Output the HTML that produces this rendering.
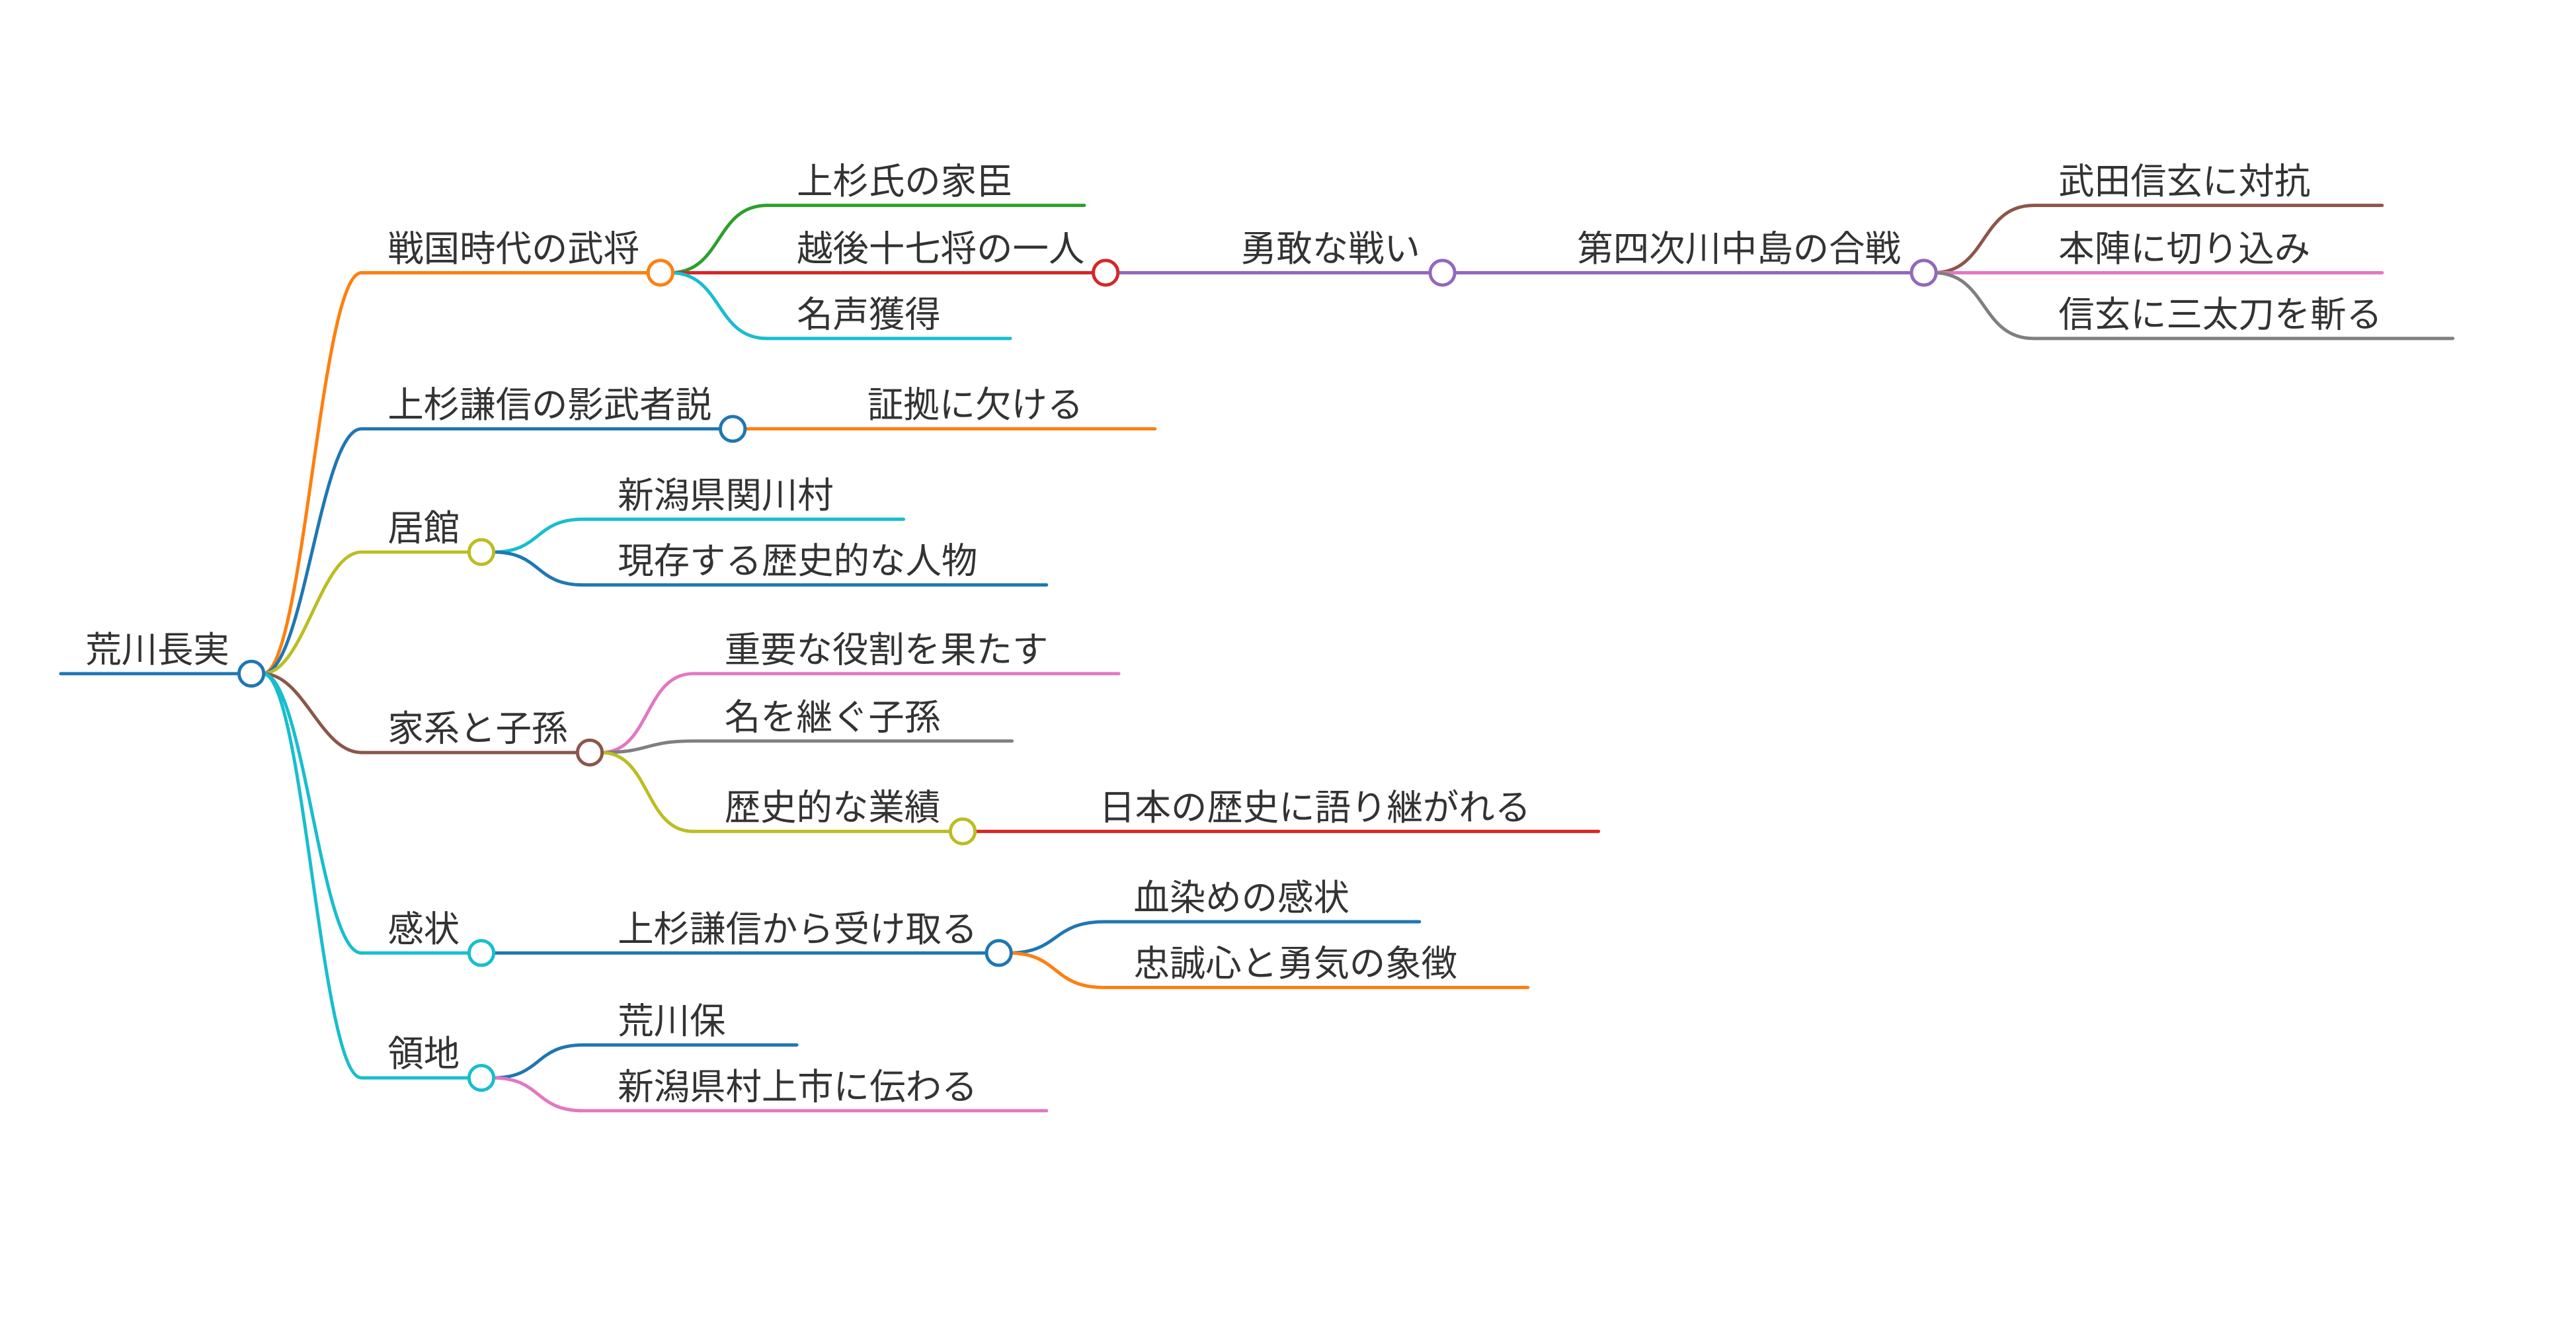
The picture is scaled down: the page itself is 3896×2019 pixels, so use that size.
<!DOCTYPE html>
<html><head><meta charset="utf-8">
<style>
html,body{margin:0;padding:0;background:#fff;}
svg{display:block;}
text{font-family:"Liberation Sans","Noto Sans CJK JP",sans-serif;font-size:21.9px;fill:#333;}
</style></head>
<body>
<svg width="3896" height="2019" viewBox="0 0 1568 812.5" preserveAspectRatio="none" xmlns="http://www.w3.org/2000/svg">
<g fill="none" stroke-width="2" stroke-linecap="round">
<path d="M37 410 H153" stroke="#1f77b4"/>
<path d="M160 410 C185 410 195 166 220 166 H402" stroke="#ff7f0e"/>
<path d="M160 410 C185 410 195 261 220 261 H446" stroke="#1f77b4"/>
<path d="M160 410 C185 410 195 336 220 336 H293" stroke="#bcbd22"/>
<path d="M160 410 C185 410 195 458 220 458 H359" stroke="#8c564b"/>
<path d="M160 410 C185 410 195 580 220 580 H293" stroke="#17becf"/>
<path d="M160 410 C185 410 195 656 220 656 H293" stroke="#17becf"/>
<path d="M408 166 C440 166 435 125 467 125 H660" stroke="#2ca02c"/>
<path d="M408 166 H673" stroke="#d62728"/>
<path d="M408 166 C440 166 435 206 467 206 H615" stroke="#17becf"/>
<path d="M680 166 H878" stroke="#9467bd"/>
<path d="M885 166 H1171" stroke="#9467bd"/>
<path d="M1177 166 C1210 166 1205 125 1238 125 H1450" stroke="#8c564b"/>
<path d="M1177 166 H1450" stroke="#e377c2"/>
<path d="M1177 166 C1210 166 1205 206 1238 206 H1493" stroke="#7f7f7f"/>
<path d="M453 261 H703" stroke="#ff7f0e"/>
<path d="M300 336 C330 336 325 316 355 316 H550" stroke="#17becf"/>
<path d="M300 336 C330 336 325 356 355 356 H637" stroke="#1f77b4"/>
<path d="M366 458 C396 458 392 410 422 410 H681" stroke="#e377c2"/>
<path d="M366 458 C396 458 392 451 422 451 H616" stroke="#7f7f7f"/>
<path d="M366 458 C396 458 392 506 422 506 H586" stroke="#bcbd22"/>
<path d="M593 506 H973" stroke="#d62728"/>
<path d="M300 580 H608" stroke="#1f77b4"/>
<path d="M614 580 C645 580 640 561 672 561 H864" stroke="#1f77b4"/>
<path d="M614 580 C645 580 640 601 672 601 H930" stroke="#ff7f0e"/>
<path d="M300 656 C330 656 325 636 355 636 H485" stroke="#1f77b4"/>
<path d="M300 656 C330 656 325 676 355 676 H637" stroke="#e377c2"/>
</g>
<g fill="#fff" stroke-width="2">
<circle cx="153" cy="410" r="7.5" stroke="#1f77b4"/>
<circle cx="402" cy="166" r="7.5" stroke="#ff7f0e"/>
<circle cx="673" cy="166" r="7.5" stroke="#d62728"/>
<circle cx="878" cy="166" r="7.5" stroke="#9467bd"/>
<circle cx="1171" cy="166" r="7.5" stroke="#9467bd"/>
<circle cx="446" cy="261" r="7.5" stroke="#1f77b4"/>
<circle cx="293" cy="336" r="7.5" stroke="#bcbd22"/>
<circle cx="359" cy="458" r="7.5" stroke="#8c564b"/>
<circle cx="586" cy="506" r="7.5" stroke="#bcbd22"/>
<circle cx="293" cy="580" r="7.5" stroke="#17becf"/>
<circle cx="608" cy="580" r="7.5" stroke="#1f77b4"/>
<circle cx="293" cy="656" r="7.5" stroke="#17becf"/>
</g>
<g>
<text x="52" y="403">荒川長実</text>
<text x="236" y="159">戦国時代の武将</text>
<text x="485" y="118">上杉氏の家臣</text>
<text x="485" y="159">越後十七将の一人</text>
<text x="485" y="199">名声獲得</text>
<text x="755" y="159">勇敢な戦い</text>
<text x="960" y="159">第四次川中島の合戦</text>
<text x="1253" y="118">武田信玄に対抗</text>
<text x="1253" y="159">本陣に切り込み</text>
<text x="1253" y="199">信玄に三太刀を斬る</text>
<text x="236" y="254">上杉謙信の影武者説</text>
<text x="528" y="254">証拠に欠ける</text>
<text x="236" y="329">居館</text>
<text x="376" y="309">新潟県関川村</text>
<text x="376" y="349">現存する歴史的な人物</text>
<text x="236" y="451">家系と子孫</text>
<text x="441" y="403">重要な役割を果たす</text>
<text x="441" y="444">名を継ぐ子孫</text>
<text x="441" y="499">歴史的な業績</text>
<text x="669" y="499">日本の歴史に語り継がれる</text>
<text x="236" y="573">感状</text>
<text x="376" y="573">上杉謙信から受け取る</text>
<text x="690" y="554">血染めの感状</text>
<text x="690" y="594">忠誠心と勇気の象徴</text>
<text x="236" y="649">領地</text>
<text x="376" y="629">荒川保</text>
<text x="376" y="669">新潟県村上市に伝わる</text>
</g>
</svg>
</body></html>
